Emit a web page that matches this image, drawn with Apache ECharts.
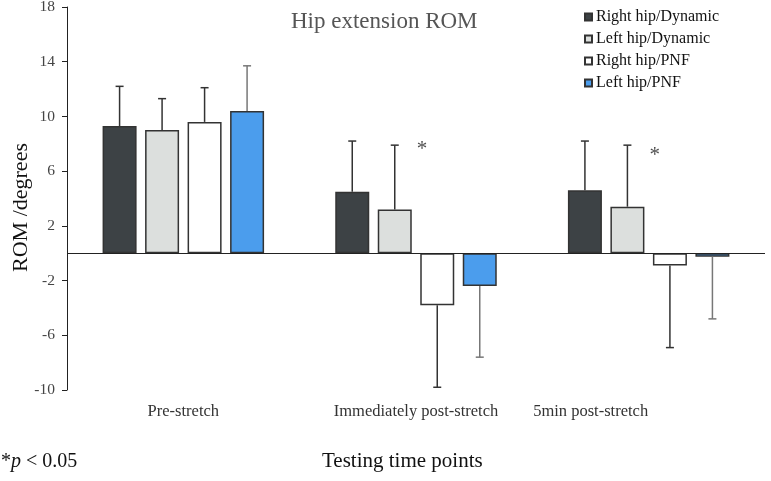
<!DOCTYPE html>
<html>
<head>
<meta charset="utf-8">
<title>Hip extension ROM</title>
<script src="https://cdn.jsdelivr.net/npm/echarts@6/dist/echarts.min.js"></script>
<style>
  html, body { margin: 0; padding: 0; background: #fff; }
  #main { width: 771px; height: 481px; }
</style>
</head>
<body>
<div id="main"></div>
<script>
// data
var categories = ['Pre-stretch', 'Immediately post-stretch', '5min post-stretch'];
var seriesNames = ['Right hip/Dynamic', 'Left hip/Dynamic', 'Right hip/PNF', 'Left hip/PNF'];
var rightDyn = [9.3, 4.5, 4.6];
var leftDyn = [9.0, 3.2, 3.4];
var rightPnf = [9.6, -3.8, -0.9];
var leftPnf = [10.4, -2.4, -0.25];
var rightDynSd = [2.9, 3.7, 3.6];
var leftDynSd = [2.3, 4.7, 4.5];
var rightPnfSd = [2.5, 6.0, 6.0];
var leftPnfSd = [3.3, 5.2, 4.55];
var yTicks = [-10, -6, -2, 2, 6, 10, 14, 18];
var starCats = [1, 2];
var starValues = [7.7, 7.3];

var means = [rightDyn, leftDyn, rightPnf, leftPnf];
var sds = [rightDynSd, leftDynSd, rightPnfSd, leftPnfSd];
var colors = ['#3d4245', '#dcdfdd', '#ffffff', '#4b9ded'];
var errColors = ['#333', '#333', '#333', '#777'];
var FONT = 'Liberation Serif';
var BAR_W = 34, BAR_STEP = 42.5;

var chart = echarts.init(document.getElementById('main'));

var series = [];
means.forEach(function (vals, i) {
    var s = {
        name: seriesNames[i],
        type: 'bar',
        data: vals,
        barWidth: BAR_W,
        barGap: '25%',
        itemStyle: { color: colors[i], borderColor: '#333', borderWidth: 1.5 }
    };
    if (i === 0) {
        // zero line
        s.markLine = {
            silent: true,
            symbol: 'none',
            label: { show: false },
            lineStyle: { color: '#222', width: 1, type: 'solid' },
            data: [{ yAxis: 0 }]
        };
    }
    series.push(s);
});

// error bars (one-sided, away from zero)
means.forEach(function (vals, i) {
    var d = vals.map(function (m, c) { return [c, m, sds[i][c]]; });
    series.push({
        name: 'err' + i,
        type: 'custom',
        z: 5,
        silent: true,
        data: d,
        renderItem: function (params, api) {
            var cat = api.value(0), m = api.value(1), sd = api.value(2);
            var end = m >= 0 ? m + sd : m - sd;
            var p0 = api.coord([cat, m]);
            var p1 = api.coord([cat, end]);
            var x = p0[0] + (i - 1.5) * BAR_STEP;
            var st = { stroke: errColors[i], lineWidth: 1.5 };
            return {
                type: 'group',
                children: [
                    { type: 'line', shape: { x1: x, y1: p0[1], x2: x, y2: p1[1] }, style: st },
                    { type: 'line', shape: { x1: x - 4, y1: p1[1], x2: x + 4, y2: p1[1] }, style: st }
                ]
            };
        }
    });
});

// significance stars
series.push({
    name: 'stars',
    type: 'scatter',
    symbolSize: 0,
    silent: true,
    data: starCats.map(function (c, k) { return [c, starValues[k]]; }),
    label: {
        show: true,
        formatter: '*',
        position: 'inside',
        offset: [6, 2],
        color: '#222',
        fontFamily: FONT,
        fontSize: 21
    }
});

chart.setOption({
    backgroundColor: '#fff',
    animation: false,
    title: {
        text: 'Hip extension ROM',
        left: 286,
        top: 5,
        textStyle: { fontFamily: FONT, fontSize: 23, fontWeight: 'normal', color: '#555' }
    },
    legend: {
        data: seriesNames,
        orient: 'vertical',
        left: 579,
        top: 4,
        icon: 'rect',
        itemWidth: 7,
        itemHeight: 7,
        itemGap: 6,
        textStyle: { fontFamily: FONT, fontSize: 16, color: '#111', padding: [0, 0, 0, -1] }
    },
    grid: { left: 67, right: 6, top: 7, bottom: 91, outerBoundsMode: 'none', containLabel: false },
    xAxis: {
        type: 'category',
        data: categories,
        axisLine: { show: false, onZero: false },
        axisTick: { show: false },
        axisLabel: {
            margin: 13,
            color: '#333',
            fontFamily: FONT,
            fontSize: 16.5,
            formatter: function (v, idx) {
                return idx === 2 ? '{c|' + v + '}' : v;
            },
            rich: {
                c: { fontFamily: FONT, fontSize: 16.5, color: '#333', padding: [0, 116, 0, 0] }
            }
        }
    },
    yAxis: {
        type: 'value',
        min: -10,
        max: 18,
        interval: 2,
        name: 'ROM /degrees',
        nameLocation: 'middle',
        nameGap: 35,
        nameMoveOverlap: false,
        nameRotate: 90,
        nameTextStyle: { fontFamily: FONT, fontSize: 22, color: '#111', padding: [0, 18, 0, 0] },
        splitLine: { show: false },
        axisLine: { show: true, onZero: false, lineStyle: { color: '#222', width: 1 } },
        axisTick: { show: true, length: 5, customValues: yTicks, lineStyle: { color: '#222' } },
        axisLabel: { customValues: yTicks, margin: 12, color: '#444', fontFamily: FONT, fontSize: 15.5 }
    },
    graphic: [
        {
            type: 'text',
            left: 322,
            top: 451,
            style: { text: 'Testing time points', fontFamily: FONT, fontSize: 21, fill: '#111' }
        },
        {
            type: 'text',
            left: 1,
            top: 452,
            style: {
                text: '{a|*}{b|p}{a| < 0.05}',
                rich: {
                    a: { fontFamily: FONT, fontSize: 20, fill: '#111', color: '#111' },
                    b: { fontFamily: FONT, fontSize: 20, fontStyle: 'italic', fill: '#111', color: '#111' }
                }
            }
        }
    ],
    series: series
});
</script>
</body>
</html>
